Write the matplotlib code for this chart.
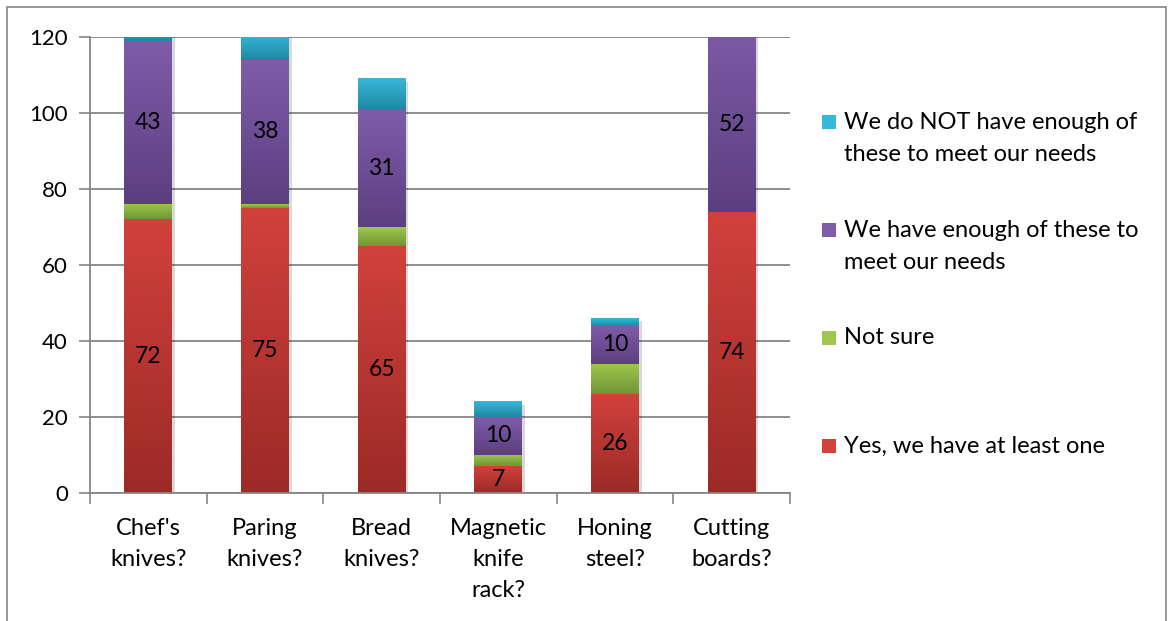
import numpy as np
import matplotlib
matplotlib.use("Agg")
import matplotlib.pyplot as plt
import matplotlib.patheffects as pe
from matplotlib.colors import LinearSegmentedColormap
from matplotlib.patches import Rectangle

items = ["Chef's\nknives?", "Paring\nknives?", "Bread\nknives?",
         "Magnetic\nknife\nrack?", "Honing\nsteel?", "Cutting\nboards?"]
yes_one    = [72, 75, 65, 7, 26, 74]
not_sure   = [4, 1, 5, 3, 8, 0]
enough     = [43, 38, 31, 10, 10, 52]
not_enough = [5, 7, 8, 4, 2, 0]

# name, values, top colour, bottom colour, show value labels
series = [
    ("Yes, we have at least one", yes_one, "#D2413C", "#9B2A27", True),
    ("Not sure", not_sure, "#9FC74F", "#6F9634", False),
    ("We have enough of these to\nmeet our needs", enough, "#7F5CA9", "#5C3F80", True),
    ("We do NOT have enough of\nthese to meet our needs", not_enough, "#38B7DA", "#2087A3", False),
]

plt.rcParams['font.family'] = ['Lato', 'DejaVu Sans']
FS = 17
grid_col = "#868686"

fig = plt.figure(figsize=(11.74, 6.21), dpi=100)
W, H = 1174, 621
ax = fig.add_axes([90 / W, 1 - 493 / H, 700 / W, 456 / H])

x = np.arange(len(items))
bottom = np.zeros(len(items))
grad = np.linspace(0, 1, 256).reshape(-1, 1)
shadow = [pe.SimplePatchShadow(offset=(2, -2), shadow_rgbFace="#000000", alpha=0.15), pe.Normal()]

for name, vals, top_c, bot_c, labelled in series:
    vals = np.array(vals, dtype=float)
    bars = ax.bar(x, vals, width=0.41, bottom=bottom, color=bot_c, zorder=2,
                  path_effects=shadow)
    cmap = LinearSegmentedColormap.from_list(name, [bot_c, top_c])
    for b in bars:
        if b.get_height() <= 0:
            continue
        x0, y0 = b.get_x(), b.get_y()
        im = ax.imshow(grad, extent=(x0, x0 + b.get_width(), y0, y0 + b.get_height()),
                       origin="lower", aspect="auto", cmap=cmap, zorder=2.5)
        im.set_clip_path(b)
        im.set_clip_box(ax.bbox)
    if labelled:
        ax.bar_label(bars, labels=[str(int(v)) for v in vals], label_type="center",
                     fontsize=16.5, color="black", zorder=4)
    bottom += vals

ax.set_xlim(-0.5, len(items) - 0.5)
ax.set_ylim(0, 120)
ax.set_yticks(np.arange(0, 121, 20))
ax.yaxis.grid(True, color=grid_col, lw=1.3)
ax.set_axisbelow(True)

ax.set_xticks(np.arange(-0.5, len(items)), labels=[])
ax.set_xticks(x, labels=items, minor=True)
ax.tick_params(axis="x", which="major", length=8, width=1.2, color=grid_col, direction="out")
ax.tick_params(axis="x", which="minor", length=0, pad=18, labelsize=FS)
ax.tick_params(axis="y", length=8, width=1.2, color=grid_col, direction="out",
               labelsize=16, pad=8)
for lab in ax.get_xticklabels(minor=True):
    lab.set_linespacing(1.6)
    lab.set_verticalalignment("top")

for s in ["top", "right"]:
    ax.spines[s].set_visible(False)
for s in ["left", "bottom"]:
    ax.spines[s].set_color(grid_col)
    ax.spines[s].set_linewidth(1.3)

# legend, drawn top to bottom in reverse stacking order
leg_y = [122, 230, 338, 446]
pitch = 33
for (name, vals, top_c, bot_c, _), yc in zip(series[::-1], leg_y):
    sq = Rectangle((822 / W, 1 - (yc + 7) / H), 14 / W, 14 / H, transform=fig.transFigure,
                   facecolor=top_c, edgecolor="none")
    fig.patches.append(sq)
    nlines = name.count("\n") + 1
    fig.text(844 / W, 1 - (yc + (nlines - 1) * pitch / 2) / H, name, fontsize=FS,
             va="center", ha="left", linespacing=1.65, transform=fig.transFigure)

fig.patches.append(Rectangle((7 / W, -0.02), 1159 / W, 1.02 - 7 / H, transform=fig.transFigure,
                             fill=False, edgecolor=grid_col, lw=1.2))

fig.savefig("out.png", dpi=100)
